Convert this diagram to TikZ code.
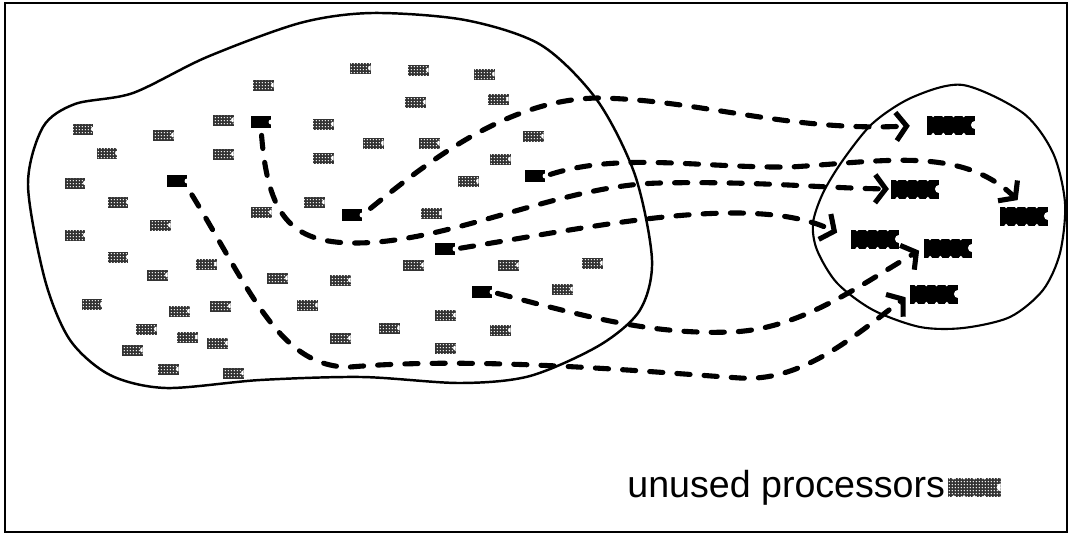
\documentclass[tikz,border=0pt]{standalone}
\usepackage{fontspec}
\setmainfont{Liberation Sans}
\usetikzlibrary{arrows.meta,patterns,positioning}

% white holes punched into the spare chips
\pgfdeclarepatternformonly{holes}{\pgfpointorigin}{\pgfqpoint{1.8pt}{1.8pt}}{\pgfqpoint{1.8pt}{1.8pt}}{%
  \pgfpathcircle{\pgfqpoint{0.9pt}{0.9pt}}{0.5pt}%
  \pgfusepath{fill}}

\begin{document}
\begin{tikzpicture}[x=0.02cm, y=-0.02cm,
    chip/.style={rectangle, inner sep=0pt, minimum width=0.42cm, minimum height=0.22cm,
      path picture={\fill[white] (path picture bounding box.east) circle (1.4pt);}},
    weave/.style={preaction={fill=black!80}, pattern=holes, pattern color=white},
    idle/.style={chip, weave},
    busy/.style={chip, fill=black, minimum width=0.4cm, minimum height=0.24cm},
    board/.style={rectangle, inner sep=0pt, minimum width=0.96cm, minimum height=0.38cm,
      path picture={\fill[white] (path picture bounding box.east) circle (2.3pt);
        \foreach \k in {0,...,3}
          \fill[white] ([xshift=0.12cm+\k*0.205cm]path picture bounding box.north west) circle (1pt)
                       ([xshift=0.12cm+\k*0.205cm]path picture bounding box.south west) circle (1pt);}},
    cpu/.style={board, fill=black},
    link/.style={line width=2.9pt, line cap=round, dash pattern=on 7.5pt off 8pt,
      -{Straight Barb[length=6pt,width=16pt]}, shorten <=3pt, shorten >=3pt},
  ]
    \useasboundingbox (0,0) rectangle (1071,535);
    \draw[line width=1pt] (5,3) rectangle (1067,532);

    % the two machines
    \draw[line width=1.4pt] plot[smooth cycle] coordinates {(28,185) (43,127) (75,104) (133,93)
        (207,57) (300,23) (372,13) (465,20) (541,45) (597,100) (635,175) (652,260) (640,310)
        (600,345) (530,376) (460,383) (362,377) (260,380) (166,388) (110,375) (70,340) (45,280)};
    \draw[line width=1.2pt] plot[smooth cycle] coordinates {(963,85) (1023,113) (1053,153)
        (1065,203) (1060,253) (1043,290) (1010,317) (963,328) (920,327) (873,310) (837,283)
        (817,250) (813,223) (823,193) (843,160) (873,123) (913,97)};

    % unused processors
    \draw (83,129)  node[idle] (g1) {};
    \draw (163,135) node[idle] (g2) {};
    \draw (223,120) node[idle] (g3) {};
    \draw (263,85)  node[idle] (g4) {};
    \draw (107,153) node[idle] (g5) {};
    \draw (223,154) node[idle] (g6) {};
    \draw (323,124) node[idle] (g7) {};
    \draw (323,158) node[idle] (g8) {};
    \draw (75,183)  node[idle] (g9) {};
    \draw (118,202) node[idle] (g10) {};
    \draw (314,202) node[idle] (g11) {};
    \draw (261,212) node[idle] (g12) {};
    \draw (160,225) node[idle] (g13) {};
    \draw (75,235)  node[idle] (g14) {};
    \draw (118,257) node[idle] (g15) {};
    \draw (206,264) node[idle] (g16) {};
    \draw (157,275) node[idle] (g17) {};
    \draw (277,278) node[idle] (g18) {};
    \draw (340,280) node[idle] (g19) {};
    \draw (92,304)  node[idle] (g20) {};
    \draw (220,306) node[idle] (g21) {};
    \draw (179,311) node[idle] (g22) {};
    \draw (307,305) node[idle] (g23) {};
    \draw (146,329) node[idle] (g24) {};
    \draw (187,337) node[idle] (g25) {};
    \draw (217,343) node[idle] (g26) {};
    \draw (340,338) node[idle] (g27) {};
    \draw (132,350) node[idle] (g28) {};
    \draw (168,369) node[idle] (g29) {};
    \draw (233,373) node[idle] (g30) {};
    \draw (360,68)  node[idle] (g31) {};
    \draw (418,70)  node[idle] (g32) {};
    \draw (484,74)  node[idle] (g33) {};
    \draw (415,102) node[idle] (g34) {};
    \draw (498,99)  node[idle] (g35) {};
    \draw (373,143) node[idle] (g36) {};
    \draw (429,143) node[idle] (g37) {};
    \draw (533,136) node[idle] (g38) {};
    \draw (500,159) node[idle] (g39) {};
    \draw (468,181) node[idle] (g40) {};
    \draw (431,213) node[idle] (g41) {};
    \draw (413,265) node[idle] (g42) {};
    \draw (508,265) node[idle] (g43) {};
    \draw (592,263) node[idle] (g44) {};
    \draw (562,289) node[idle] (g45) {};
    \draw (445,315) node[idle] (g46) {};
    \draw (389,328) node[idle] (g47) {};
    \draw (500,330) node[idle] (g48) {};
    \draw (445,348) node[idle] (g49) {};

    % processors that get moved
    \draw (261,122) node[busy] (s1) {};
    \draw (177,181) node[busy] (s2) {};
    \draw (352,215) node[busy] (s3) {};
    \draw (535,176) node[busy] (s4) {};
    \draw (445,249) node[busy] (s5) {};
    \draw (482,292) node[busy] (s6) {};

    % and where they end up
    \draw (951,125)  node[cpu] (t1) {};
    \draw (915,189)  node[cpu] (t2) {};
    \draw (1024,216) node[cpu] (t3) {};
    \draw (875,239)  node[cpu] (t4) {};
    \draw (948,248)  node[cpu] (t5) {};
    \draw (934,294)  node[cpu] (t6) {};

    \draw[link, shorten <=4pt, shorten >=1pt] (s1.south) .. controls (268,215) and (290,243) .. (355,243)
          .. controls (450,243) and (560,185) .. (660,183)
          .. controls (760,181) and (820,188) .. (t2.west);
    \draw[link, shorten <=5pt] (s2.south east) .. controls (250,290) and (280,368) .. (350,367)
          .. controls (480,356) and (650,372) .. (740,378)
          .. controls (800,382) and (850,340) .. (t6.west);
    \draw[link, shorten <=6pt, shorten >=9.6pt] (s3.east) .. controls (430,160) and (510,98) .. (600,98)
          .. controls (700,100) and (790,132) .. (t1.west);
    \draw[link, shorten >=5pt] (s4.east) .. controls (620,152) and (700,168) .. (790,167)
          .. controls (880,162) and (960,145) .. (t3.north);
    \draw[link, shorten >=8.5pt] (s5.east) .. controls (560,232) and (660,212) .. (740,213)
          .. controls (790,214) and (815,222) .. (t4.west);
    \draw[link] (s6.east) .. controls (580,315) and (650,335) .. (730,332)
          .. controls (800,330) and (860,285) .. (t5.west);

    \node[anchor=base west, inner sep=0pt, font=\fontsize{21.4}{26}\selectfont] (legend) at (627,497) {unused processors};
    \node[board, weave, minimum width=1.06cm, right=0.04cm of legend] (spare) {};
\end{tikzpicture}
\end{document}
